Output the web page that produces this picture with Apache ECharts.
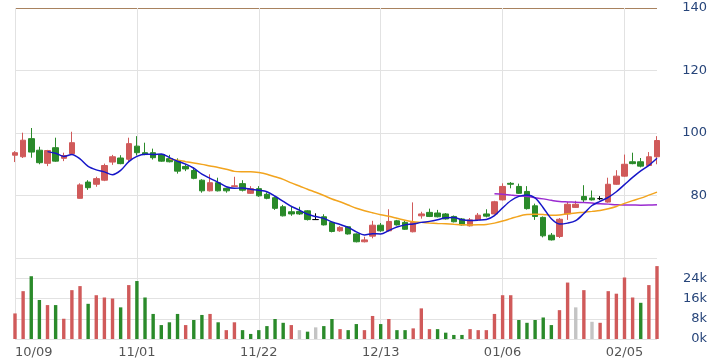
<!DOCTYPE html>
<html><head><meta charset="utf-8">
<script src="https://cdn.jsdelivr.net/npm/echarts@6/dist/echarts.min.js"></script>
<style>html,body{margin:0;padding:0;background:#fff}#c{width:714px;height:362px}</style>
</head><body><div id="c"></div>
<script>
const dates = ['10/09','10/10','10/11','10/14','10/15','10/16','10/17','10/18','10/21','10/22','10/23','10/24','10/25','10/28','10/29',
'11/01','11/04','11/05','11/06','11/07','11/08','11/11','11/12','11/13','11/14','11/15','11/18','11/19','11/20','11/21',
'11/22','11/25','11/26','11/27','11/28','11/29','12/02','12/03','12/04','12/05','12/06','12/09','12/10','12/11','12/12',
'12/13','12/16','12/17','12/18','12/19','12/20','12/23','12/24','12/25','12/26','12/27','12/30','12/31','01/02','01/03',
'01/06','01/07','01/08','01/09','01/10','01/13','01/14','01/15','01/16','01/17','01/20','01/21','01/22','01/23','01/24',
'02/05','02/06','02/07','02/10','02/11'];
const labelDates = ['10/09','11/01','11/22','12/13','01/06','02/05'];
const openP  = [92.9,92.4,98.2,94.5,90.3,95.3,91.9,93.4,79.1,84.3,83.6,84.9,90.7,92.0,91.6,95.8,93.7,93.7,93.1,91.8,
91.0,89.3,88.0,84.9,81.5,84.1,82.3,82.9,83.8,80.7,82.2,80.4,79.3,76.4,74.8,74.9,75.1,72.3,73.2,71.4,
68.7,70.0,67.7,65.2,67.0,70.5,68.7,71.9,71.4,68.4,73.5,74.6,74.4,74.1,73.3,72.5,70.3,72.2,74.1,74.1,
78.6,83.9,82.9,81.3,76.7,73.0,67.3,66.9,74.1,76.2,79.7,79.2,79.0,77.9,83.6,86.2,90.8,90.8,89.6,92.4];
const closeP = [93.7,97.7,93.9,90.5,94.4,91.0,92.8,96.9,83.4,82.5,85.4,89.6,92.4,90.2,96.6,93.7,93.1,92.1,91.0,90.8,
87.8,88.5,85.5,81.5,84.1,81.5,81.5,83.1,81.7,82.2,79.9,79.1,75.9,73.5,74.1,74.1,72.3,72.3,70.6,68.5,
69.8,67.7,65.2,65.8,70.5,68.7,71.7,70.6,69.2,71.4,74.1,73.3,73.2,72.5,71.6,70.6,72.2,73.7,73.4,78.0,
82.9,83.6,80.7,75.8,73.3,67.1,65.8,72.4,77.2,77.2,78.6,78.6,79.0,83.6,86.2,90.0,90.2,89.4,92.4,97.6];
const lowP   = [90.7,92.0,92.1,90.0,89.4,90.8,91.0,93.2,79.0,81.8,82.8,84.6,89.8,90.0,91.0,92.8,92.9,91.5,90.8,90.6,
87.0,87.8,85.2,80.9,81.3,81.3,80.9,82.7,81.3,80.5,79.6,78.8,75.4,73.3,73.5,73.8,72.0,72.3,70.4,68.2,
68.4,67.5,65.0,65.0,66.3,68.4,68.5,70.4,69.0,68.2,72.6,73.1,73.0,72.3,71.4,70.4,70.1,72.0,73.0,73.9,
78.4,82.3,80.5,75.5,72.2,66.6,65.6,66.4,72.2,76.0,77.8,78.4,78.5,77.7,83.4,86.0,90.0,89.0,89.4,90.0];
const highP  = [94.2,100.1,101.6,95.6,94.6,98.5,93.7,100.4,83.9,84.9,86.0,90.2,93.0,92.9,98.5,99.0,96.9,95.0,93.3,93.0,
91.9,90.0,89.0,85.2,86.8,85.7,82.5,86.0,84.9,83.0,83.0,81.0,79.6,77.0,76.7,76.4,75.3,74.3,74.0,71.6,
70.2,70.2,67.9,66.8,71.9,71.2,75.6,72.2,71.9,77.8,74.8,75.8,75.4,74.4,73.6,72.8,72.8,74.4,75.6,78.3,
83.9,84.3,83.8,83.0,77.4,73.3,68.0,72.8,78.0,78.3,83.3,81.6,79.8,85.7,88.1,93.1,93.7,92.0,93.9,99.0];
const ma5 = ['-','-','-','-',94.04,93.5,92.52,93.12,91.7,89.32,88.2,87.56,86.66,88.02,90.84,92.5,93.2,93.14,93.3,92.14,
90.96,90.04,88.72,86.82,85.48,84.22,82.82,82.34,82.38,82.0,81.68,81.2,79.76,78.12,76.5,75.34,73.98,73.26,72.68,71.56,
70.7,69.78,68.36,67.4,67.8,67.7,68.8,69.9,70.6,70.9,71.4,71.72,72.24,72.9,72.94,72.24,72.02,72.12,72.3,73.58,
76.04,78.32,79.72,80.2,79.26,76.1,72.54,70.88,71.16,71.94,74.24,76.8,78.12,79.4,81.2,83.48,85.8,87.88,89.64,91.92];
const ma20 = ['-','-','-','-','-','-','-','-','-','-','-','-','-','-','-','-','-','-','-',91.59,
91.29,90.83,90.41,89.96,89.45,88.97,88.41,87.72,87.63,87.62,87.34,86.82,85.99,85.16,84.03,83.05,82.01,81.03,80.0,78.89,
77.99,76.95,75.94,75.15,74.47,73.83,73.34,72.72,72.09,71.6,71.4,71.2,71.05,70.95,70.8,70.65,70.6,70.65,70.75,71.16,
71.82,72.61,73.39,73.89,74.03,73.95,73.65,73.74,74.14,74.43,74.66,74.92,75.21,75.77,76.5,77.47,78.37,79.16,80.11,81.09];
const ma60 = ['-','-','-','-','-','-','-','-','-','-','-','-','-','-','-','-','-','-','-','-',
'-','-','-','-','-','-','-','-','-','-','-','-','-','-','-','-','-','-','-','-',
'-','-','-','-','-','-','-','-','-','-','-','-','-','-','-','-','-','-','-',80.55,
80.37,80.13,79.91,79.67,79.31,78.92,78.47,78.06,77.95,77.87,77.75,77.57,77.35,77.24,77.06,76.99,76.95,76.9,76.93,77.04];
const volume = [10100,18900,24800,15400,13400,13400,8000,19300,20900,13900,17300,16400,16000,12500,21300,22900,16400,9900,5500,6600,
9900,5500,7500,9500,9900,6600,3500,6600,3500,2000,3500,5100,7900,6400,5500,3500,2900,4600,5100,7900,
3900,3500,5900,3500,9100,5900,7900,3500,3500,4200,12100,3900,3900,2500,1600,1600,3900,3500,3500,9900,
17300,17300,7500,6400,7500,8500,5500,11400,22300,12500,19300,6800,6400,18900,17900,24300,16400,14300,21300,28800];
// 1 = up vs reference price, -1 = down, 0 = unchanged
const volDir = [1,1,-1,-1,1,-1,1,1,1,-1,1,1,1,-1,1,-1,-1,-1,-1,-1,
-1,1,-1,-1,1,-1,1,1,-1,-1,-1,-1,-1,-1,1,0,-1,0,-1,-1,
1,-1,-1,1,1,-1,1,-1,-1,1,1,1,-1,-1,-1,-1,1,1,1,1,
1,1,-1,-1,-1,-1,-1,1,1,0,1,0,1,1,1,1,1,-1,1,1];
const priceTicks = [80,100,120,140];
const volTicks = [0,8000,16000,24000];

const UP='#d05a5a', DOWN='#2a8a2a', FLAT='#c4c4c4';
const kData = openP.map((o,i)=>[o, closeP[i], lowP[i], highP[i]]);
const showLabel = (i, v) => labelDates.indexOf(v) >= 0;
const chart = echarts.init(document.getElementById('c'), null, {renderer:'canvas'});
const grid = '#e2e2e2';
chart.setOption({
  animation:false,
  grid:[{left:15,right:57,top:8,height:250},{left:15,right:57,top:258,height:81}],
  xAxis:[
    {type:'category',gridIndex:0,data:dates,boundaryGap:false,
     axisLine:{show:false},axisTick:{show:false},axisLabel:{show:false},
     splitLine:{show:true,interval:showLabel,lineStyle:{color:grid,width:1}}},
    {type:'category',gridIndex:1,data:dates,boundaryGap:false,
     axisLine:{show:false},axisTick:{show:false},
     axisLabel:{show:true,interval:showLabel,color:'#555',fontSize:13,fontFamily:'DejaVu Sans',margin:7,alignMinLabel:'left'},
     splitLine:{show:true,interval:showLabel,lineStyle:{color:grid,width:1}}}
  ],
  yAxis:[
    {type:'value',gridIndex:0,position:'right',min:60,max:140,interval:20,
     axisLine:{show:false},axisTick:{show:false},
     axisLabel:{align:'right',margin:50,color:'#27457a',fontSize:13,fontFamily:'DejaVu Sans',
       formatter:v=>priceTicks.indexOf(v)>=0?String(v):''},
     splitLine:{lineStyle:{color:[grid,grid,grid,grid,'#a8825f'],width:1}}},
    {type:'value',gridIndex:1,position:'right',min:0,max:32000,interval:8000,
     axisLine:{show:false},axisTick:{show:false},
     axisLabel:{align:'right',margin:50,color:'#27457a',fontSize:13,fontFamily:'DejaVu Sans',
       formatter:v=>volTicks.indexOf(v)>=0?(v/1000)+'k':''},
     splitLine:{lineStyle:{color:grid,width:1}}}
  ],
  series:[
    {type:'candlestick',xAxisIndex:0,yAxisIndex:0,data:kData,barWidth:6,clip:false,z:2,
     itemStyle:{color:UP,color0:DOWN,borderColor:UP,borderColor0:DOWN,borderColorDoji:'#000',borderWidth:1}},
    {type:'line',xAxisIndex:0,yAxisIndex:0,data:ma60,showSymbol:false,smooth:0.3,z:3,
     lineStyle:{color:'#9a2bd0',width:1.5}},
    {type:'line',xAxisIndex:0,yAxisIndex:0,data:ma20,showSymbol:false,smooth:0.3,z:3,
     lineStyle:{color:'#f2a41e',width:1.5}},
    {type:'line',xAxisIndex:0,yAxisIndex:0,data:ma5,showSymbol:false,smooth:0.3,z:4,
     lineStyle:{color:'#1616c8',width:1.5}},
    {type:'bar',xAxisIndex:1,yAxisIndex:1,data:volume,barWidth:3.4,clip:false,
     itemStyle:{color:p=>volDir[p.dataIndex]>0?UP:(volDir[p.dataIndex]<0?DOWN:FLAT)}}
  ]
});
</script></body></html>
